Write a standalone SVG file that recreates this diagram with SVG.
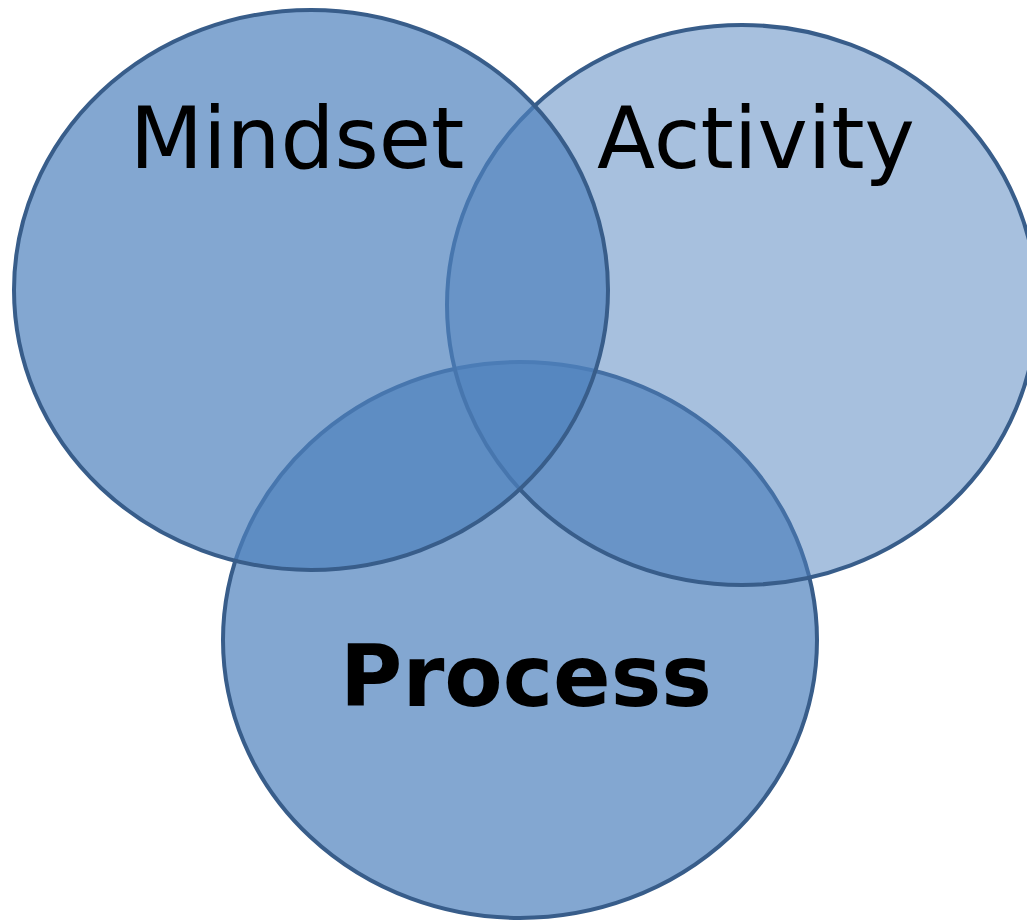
<svg xmlns="http://www.w3.org/2000/svg" width="1027" height="920" viewBox="0 0 1027 920">
  <style>
    .ring { stroke: #385d8a; stroke-width: 4; }
    .strong { fill: rgb(79,129,189); fill-opacity: 0.7; }
    .soft { fill: rgb(79,129,189); fill-opacity: 0.5; }
    .label { font-family: "DejaVu Sans", Verdana, sans-serif; font-size: 85px; fill: #000; text-anchor: middle; }
    .bold { font-weight: bold; }
  </style>
  <rect width="1027" height="920" fill="#ffffff"/>
  <!-- bottom set, drawn first so the others tint over it -->
  <g id="process">
    <ellipse class="ring strong" cx="520" cy="640" rx="297" ry="278"/>
  </g>
  <g id="activity">
    <ellipse class="ring soft" cx="742" cy="305" rx="295" ry="280"/>
  </g>
  <g id="mindset">
    <ellipse class="ring strong" cx="311" cy="290" rx="297" ry="280"/>
  </g>
  <g id="labels">
    <text class="label" x="297" y="168">Mindset</text>
    <text class="label" x="756" y="168">Activity</text>
    <text class="label bold" x="526" y="706">Process</text>
  </g>
  <g id="connectors"/>
</svg>
